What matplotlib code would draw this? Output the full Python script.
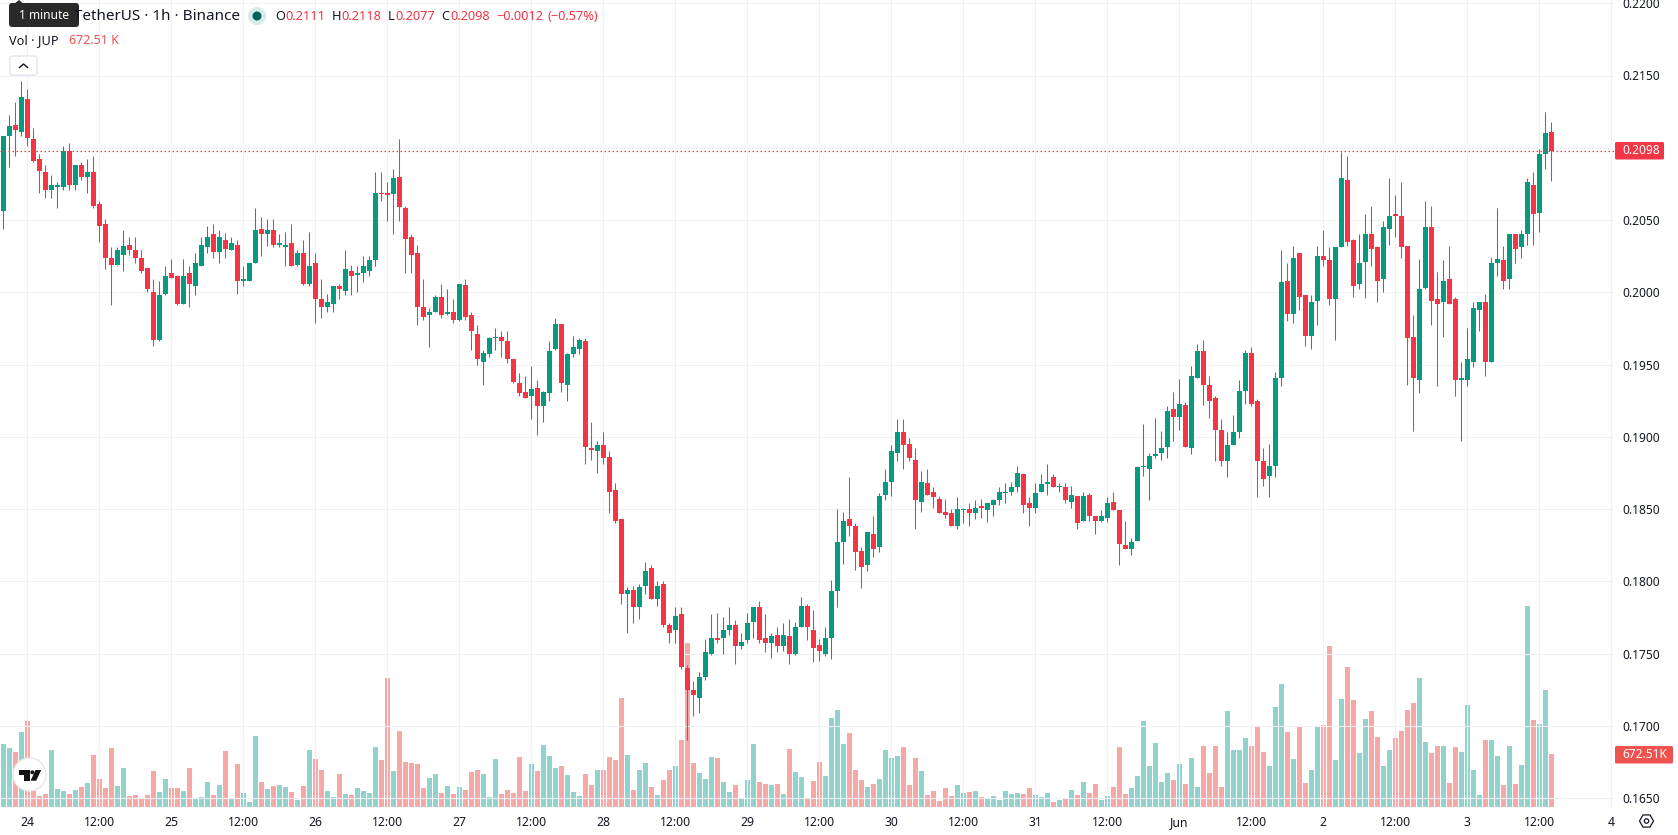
import matplotlib
matplotlib.use("Agg")
import numpy as np
import matplotlib.pyplot as plt
from matplotlib.patches import Circle, FancyBboxPatch, Polygon, RegularPolygon

plt.rcParams['font.family'] = ['Noto Sans', 'DejaVu Sans']

# JUP/USDT hourly candles, prices in units of 0.0001 USDT
opens = [
    2056,2108,2116,2111,2134,2106,2092,2083,2071,2073, 2073,2098,2074,2088,2080,2083,2061,2047,2024,2019,
    2026,2033,2029,2024,2017,2000,1967,1999,2013,2011, 1992,2013,2004,2018,2031,2040,2028,2036,2029,2033,
    2008,2008,2020,2044,2040,2043,2033,2031,2034,2019, 2027,2006,2020,1995,1990,1992,2004,2001,2015,2012,
    2013,2015,2022,2069,2069,2068,2080,2058,2038,2027, 1990,1984,1986,1997,1985,1986,1981,2005,1984,1971,
    1952,1957,1968,1969,1966,1954,1937,1931,1928,1934, 1921,1930,1961,1978,1936,1957,1961,1966,1892,1890,
    1894,1886,1863,1843,1791,1794,1782,1797,1809,1788, 1798,1770,1766,1777,1740,1725,1719,1734,1750,1761,
    1761,1766,1770,1755,1759,1772,1782,1761,1757,1763, 1755,1762,1750,1768,1783,1766,1756,1750,1761,1793,
    1827,1843,1838,1821,1811,1833,1824,1860,1869,1889, 1903,1895,1884,1855,1868,1862,1857,1848,1847,1838,
    1849,1850,1847,1852,1849,1853,1856,1861,1862,1865, 1874,1854,1851,1862,1867,1872,1865,1865,1855,1859,
    1842,1860,1845,1842,1844,1855,1849,1825,1822,1828, 1879,1878,1887,1889,1893,1919,1914,1922,1892,1941,
    1959,1936,1927,1905,1883,1894,1903,1932,1958,1925, 1883,1873,1880,1941,2008,1985,2027,1998,1970,1994,
    2025,2022,1995,2031,2078,2036,2006,2021,2040,2031, 2009,2044,2054,2053,2032,1969,1939,2003,2045,1995,
    1993,2009,1995,1939,1939,1952,1988,1993,1952,2020, 2022,2009,2040,2031,2040,2074,2055,2096,2111,
]
highs = [
    2108,2123,2132,2146,2141,2114,2096,2088,2081,2076, 2101,2103,2088,2090,2092,2094,2063,2051,2031,2031,
    2043,2038,2038,2029,2017,2009,2008,2018,2023,2012, 2023,2018,2027,2038,2046,2047,2043,2041,2038,2036,
    2018,2020,2058,2052,2051,2051,2040,2042,2047,2029, 2036,2042,2027,2009,1999,2004,2006,2029,2019,2018,
    2025,2025,2083,2083,2076,2085,2106,2060,2040,2033, 2009,1989,1998,2006,2002,1995,2006,2009,1986,1977,
    1960,1969,1975,1973,1973,1954,1944,1942,1949,1939, 1932,1966,1982,1978,1958,1970,1968,1968,1910,1897,
    1903,1890,1868,1843,1796,1797,1798,1813,1811,1800, 1800,1771,1782,1782,1742,1731,1737,1760,1777,1778,
    1775,1782,1773,1764,1778,1782,1786,1777,1764,1768, 1771,1774,1772,1789,1784,1780,1760,1768,1801,1850,
    1848,1872,1840,1824,1834,1845,1861,1878,1894,1912, 1912,1899,1892,1876,1878,1865,1859,1857,1850,1858,
    1851,1854,1856,1857,1854,1857,1865,1868,1869,1880, 1874,1858,1868,1874,1881,1874,1868,1868,1866,1859,
    1862,1861,1845,1849,1858,1862,1849,1842,1830,1879, 1909,1889,1913,1904,1921,1931,1940,1924,1949,1964,
    1967,1942,1928,1912,1903,1915,1939,1960,1962,1926, 1892,1895,1945,2029,2020,2032,2027,1998,1998,2032,
    2043,2031,2031,2097,2094,2037,2040,2054,2060,2032, 2049,2079,2067,2076,2032,1984,2023,2063,2060,2014,
    2022,2032,1997,1952,1975,1993,1993,1999,2024,2058, 2032,2040,2040,2043,2079,2083,2099,2125,2118,
]
lows = [
    2044,2087,2094,2108,2101,2090,2069,2065,2065,2058, 2071,2071,2071,2078,2069,2058,2035,2016,1991,2019,
    2015,2026,2020,2013,2000,1963,1966,1998,2010,1991, 1992,1990,1998,2018,2027,2024,2020,2024,2029,1999,
    2004,2008,2020,2025,2032,2031,2031,2018,2018,2018, 2005,2004,1979,1982,1986,1986,1995,1998,1998,2000,
    2007,2011,2018,2063,2049,2040,2049,2013,2013,1977, 1981,1962,1986,1982,1984,1979,1980,1981,1960,1950,
    1936,1955,1960,1955,1951,1937,1928,1927,1912,1901, 1910,1925,1960,1931,1925,1955,1957,1881,1884,1875,
    1881,1847,1840,1784,1764,1771,1774,1791,1788,1783, 1768,1757,1757,1739,1690,1707,1709,1732,1749,1757,
    1750,1763,1743,1753,1757,1761,1757,1751,1747,1751, 1752,1743,1749,1768,1759,1744,1745,1748,1746,1782,
    1812,1831,1808,1795,1807,1817,1820,1856,1859,1883, 1878,1883,1836,1848,1860,1851,1847,1844,1838,1836,
    1840,1838,1843,1844,1841,1845,1853,1854,1860,1862, 1847,1838,1847,1862,1860,1865,1862,1854,1851,1836,
    1842,1842,1833,1841,1841,1849,1811,1822,1818,1828, 1873,1856,1885,1884,1885,1897,1905,1893,1888,1941,
    1922,1913,1883,1880,1872,1894,1899,1923,1921,1858, 1866,1858,1872,1935,1980,1979,1988,1963,1961,1977,
    2018,1991,1967,2031,2032,1997,2002,1996,2018,1993, 2000,2033,2038,2024,1936,1904,1930,2002,1977,1935,
    1969,1992,1928,1897,1935,1948,1973,1942,1952,2011, 2002,2002,2020,2024,2033,2033,2042,2085,2077,
]
closes = [
    2108,2115,2112,2135,2107,2091,2084,2071,2074,2074, 2098,2074,2088,2080,2083,2060,2046,2024,2019,2029,
    2032,2029,2024,2015,2002,1967,1998,2011,2010,1992, 2011,2006,2020,2033,2038,2028,2038,2030,2034,2008,
    2009,2020,2043,2040,2043,2033,2034,2033,2018,2027, 2006,2018,1995,1990,1993,2004,2002,2016,2011,2013,
    2018,2022,2069,2068,2067,2079,2059,2037,2026,1990, 1983,1986,1997,1984,1986,1981,2006,1983,1973,1954,
    1958,1968,1969,1966,1954,1938,1930,1927,1933,1921, 1931,1959,1978,1937,1957,1962,1967,1893,1891,1894,
    1885,1862,1842,1791,1794,1782,1796,1807,1788,1797, 1770,1764,1776,1741,1725,1721,1734,1751,1761,1759,
    1766,1770,1755,1758,1771,1782,1759,1757,1762,1755, 1763,1750,1768,1783,1768,1754,1752,1761,1793,1827,
    1842,1838,1820,1810,1834,1822,1859,1869,1890,1903, 1894,1885,1856,1869,1860,1858,1847,1846,1838,1850,
    1850,1847,1851,1851,1854,1856,1862,1862,1865,1875, 1853,1851,1861,1867,1869,1865,1866,1856,1860,1840,
    1859,1845,1842,1845,1854,1849,1826,1822,1827,1879, 1880,1887,1888,1892,1918,1914,1923,1893,1942,1959,
    1936,1925,1905,1883,1894,1903,1932,1958,1923,1883, 1871,1880,1941,2007,1985,2024,1997,1970,1993,2025,
    2022,1995,2031,2079,2035,2004,2020,2040,2030,2008, 2045,2053,2053,2031,1968,1941,2002,2045,1994,1992,
    2008,1992,1939,1941,1954,1989,1993,1952,2020,2023, 2008,2040,2030,2040,2076,2054,2096,2110,2098,
]
# volume per candle, thousands of JUP
volumes = [
    803,752,701,956,1096,204,140,166,727,230, 204,166,217,255,306,663,357,242,752,268,
    497,140,153,115,153,459,191,357,242,242, 204,497,115,128,319,153,281,714,115,548,
    179,64,905,319,230,268,281,255,191,89, 268,727,612,472,204,128,421,166,153,242,
    204,179,765,599,1645,459,969,574,561,548, 242,370,421,179,268,166,255,217,446,472,
    421,128,612,166,217,179,638,204,548,459, 791,650,497,523,408,191,140,421,281,472,
    472,638,599,1390,663,217,472,561,255,153, 344,472,523,854,2091,561,434,357,638,625,
    319,191,281,102,344,803,319,293,281,293, 166,740,446,383,115,332,574,395,1135,1237,
    803,944,472,344,255,293,357,727,625,650, 765,281,625,459,153,204,77,242,140,281,
    179,191,204,128,102,140,89,204,166,179, 166,242,153,128,179,64,89,102,217,153,
    319,179,293,89,140,255,765,162,238,391, 1092,519,812,315,429,340,544,289,621,251,
    774,429,774,251,1220,723,723,876,774,1029, 697,519,1271,1564,952,608,1016,302,468,1029,
    1041,2049,595,1373,1781,1360,684,1118,1220,888, 519,723,876,965,1233,1322,1641,825,684,774,
    774,302,761,697,1296,468,149,850,850,646, 276,774,289,531,2571,1105,1054,1488,672.51,
]

last_close = closes[-1] / 10000
price_ticks = [0.165, 0.17, 0.175, 0.18, 0.185, 0.19, 0.195, 0.20, 0.205, 0.21, 0.215, 0.22]
hour_ticks = np.arange(4, 269, 12)
time_labels = ['24','12:00','25','12:00','26','12:00','27','12:00','28','12:00','29','12:00',
               '30','12:00','31','12:00','Jun','12:00','2','12:00','3','12:00','4']

UP = '#089981'
DOWN = '#F23645'
VOL_UP = '#26a69a'
VOL_DOWN = '#ef5350'
GRID = '#f0f1f4'
TEXT = '#131722'

W, H = 1678, 835
fig = plt.figure(figsize=(W / 100, H / 100), dpi=100, facecolor='white')

# main pane, right edge is where the price scale starts
ax = fig.add_axes([0, 28 / H, 1614 / W, 807 / H])
vol_ax = ax.twinx()
ax.set_zorder(2)
vol_ax.set_zorder(1)
ax.patch.set_visible(False)

x = np.arange(len(opens))
o = np.array(opens) / 10000
h = np.array(highs) / 10000
l = np.array(lows) / 10000
c = np.array(closes) / 10000
up = c >= o
candle_colors = np.where(up, UP, DOWN)

vol_ax.bar(x, volumes, width=5 / 6, color=np.where(up, VOL_UP, VOL_DOWN), alpha=0.5, linewidth=0)
vol_ax.set_ylim(0, 672.51 / 52.7 * 807)
vol_ax.axis('off')

ax.set_axisbelow(True)
ax.grid(True, color=GRID, linewidth=0.8)
wicks = ax.vlines(x, l, h, colors=candle_colors, linewidth=0.75, zorder=3)
wicks.set_snap(True)
ax.bar(x, np.abs(c - o), bottom=np.minimum(o, c), width=5 / 6, color=candle_colors, linewidth=0, zorder=4)
last_line = ax.axhline(last_close, color=DOWN, linewidth=0.9, linestyle=(0, (1.2, 2)), zorder=5)
last_line.set_snap(True)

ax.set_xlim(-3.33 / 6, (1614 - 3.33) / 6)
ax.set_ylim(0.165 - 9 / 14450, 0.165 + 798 / 14450)
for s in ax.spines.values():
    s.set_visible(False)

ax.yaxis.tick_right()
ax.set_yticks(price_ticks)
ax.set_yticklabels(['%.4f' % p for p in price_ticks])
ax.set_xticks(hour_ticks)
ax.set_xticklabels(time_labels)
ax.tick_params(axis='y', length=0, pad=5.8, labelsize=8.6, labelcolor=TEXT)
ax.tick_params(axis='x', length=0, pad=6.5, labelsize=8.8, labelcolor=TEXT)
for t in ax.get_xticklabels():
    if t.get_text() == 'Jun':
        t.set_fontweight('bold')

# overlay in pixel units for the legend, tags and logo
ui = fig.add_axes([0, 0, 1, 1], zorder=10)
ui.set_xlim(0, W)
ui.set_ylim(H, 0)
ui.axis('off')


def label(px, py, s, color=TEXT, size=8.8, ha='left'):
    ui.text(px, py, s, color=color, fontsize=size, ha=ha, va='center')


# legend row
label(240, 16, 'TetherUS · 1h · Binance', size=11, ha='right')
ui.add_patch(Circle((257, 16), 9, color='#d5ece8', linewidth=0))
ui.add_patch(Circle((257, 16), 4.5, color='#006156', linewidth=0))
for px, s, col in [(275, 'O', TEXT), (285, '0.2111', DOWN), (332, 'H', TEXT), (341.5, '0.2118', DOWN),
                   (388, 'L', TEXT), (395, '0.2077', DOWN), (441, 'C', TEXT), (450, '0.2098', DOWN),
                   (496, '−0.0012', DOWN), (547, '(−0.57%)', DOWN)]:
    label(px, 16, s, color=col, size=9.2)

label(9, 41, 'Vol · JUP', size=9.2)
label(69, 41, '672.51 K', color=VOL_DOWN, size=9.0)

# collapse button
ui.add_patch(FancyBboxPatch((10, 56), 27, 19, boxstyle='round,pad=0,rounding_size=2.5',
                            facecolor='white', edgecolor='#e0e3eb', linewidth=0.9))
ui.plot([19.5, 23.5, 27.5], [67.5, 64, 67.5], color=TEXT, linewidth=1.0)

# tooltip over the symbol name
ui.add_patch(Polygon([(14, 4), (19, 0), (24, 4)], color='#2a2a2a', linewidth=0))
ui.add_patch(FancyBboxPatch((9, 3), 70, 24, boxstyle='round,pad=0,rounding_size=3',
                            facecolor='#2a2a2a', edgecolor='none'))
label(44, 15.5, '1 minute', color='white', size=8.6, ha='center')

# last value tags on the price scale
ui.add_patch(FancyBboxPatch((1615, 142), 49, 17.5, boxstyle='round,pad=0,rounding_size=1.5',
                            facecolor=DOWN, edgecolor='none'))
label(1622, 150.5, '0.2098', color='white', size=8.6)
ui.add_patch(FancyBboxPatch((1615, 746), 58, 17.5, boxstyle='round,pad=0,rounding_size=1.5',
                            facecolor=VOL_DOWN, edgecolor='none'))
label(1622, 754.5, '672.51K', color='white', size=8.6)

# settings gear in the corner
ui.add_patch(RegularPolygon((1646.5, 821), 6, radius=7, orientation=np.pi / 6,
                            facecolor='none', edgecolor=TEXT, linewidth=0.9))
ui.add_patch(Circle((1646.5, 821), 2.2, facecolor='none', edgecolor=TEXT, linewidth=0.9))

# logo badge
ui.add_patch(Circle((29.5, 774.5), 16.5, facecolor='white', edgecolor='#e8e8e8', linewidth=1.0))
ui.add_patch(Polygon([(18.6, 770), (30.4, 770), (30.4, 780.7), (24.2, 780.7), (24.2, 775), (18.6, 775)],
                     color='#131313', linewidth=0))
ui.add_patch(Circle((32.3, 772.3), 2.0, color='#131313', linewidth=0))
ui.add_patch(Polygon([(35.5, 770), (41.3, 770), (36.2, 780.7), (30.6, 780.7)], color='#131313', linewidth=0))

fig.savefig('out.png', dpi=100, facecolor='white')
